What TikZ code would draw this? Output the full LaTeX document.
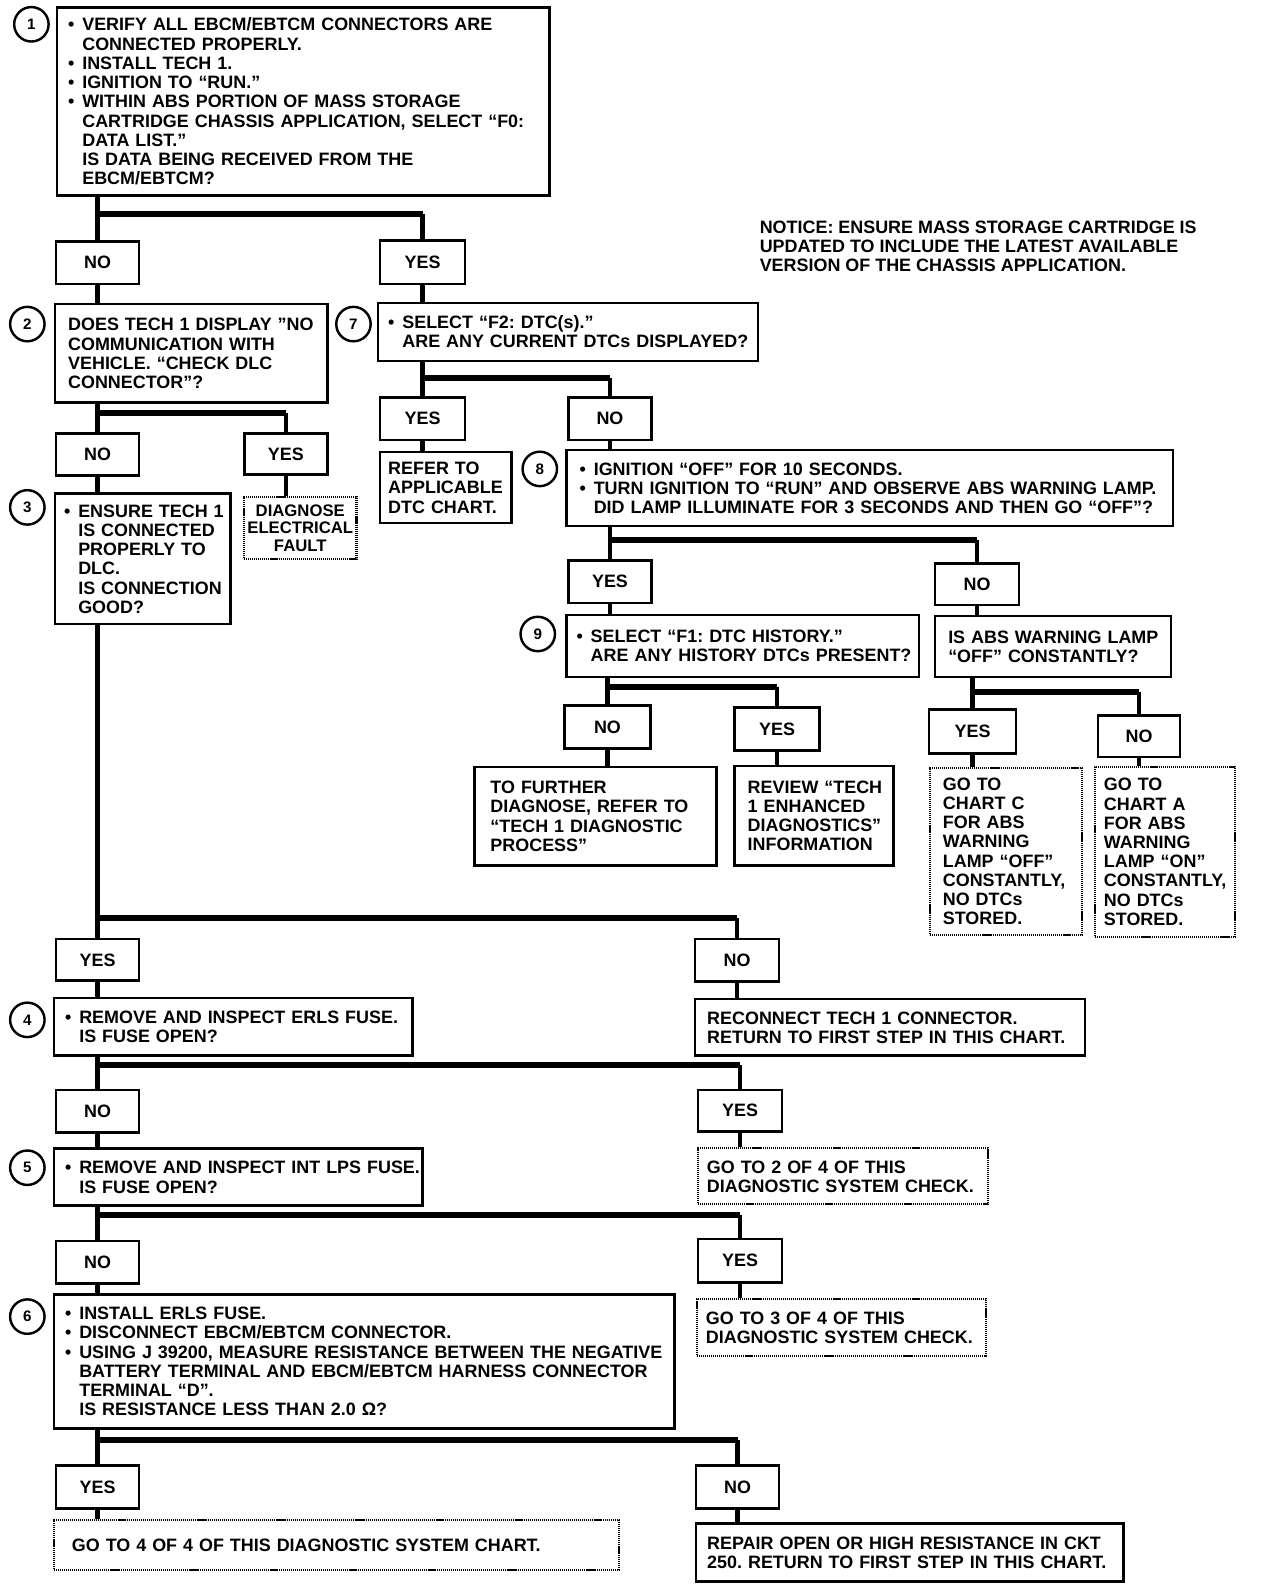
\documentclass[tikz,border=0pt]{standalone}
\usepackage{fontspec}
\setmainfont{Liberation Sans}
\newcommand\mf{\fontsize{17.7}{19}\selectfont\bfseries}
\newcommand\smf{\fontsize{16.5}{17}\selectfont\bfseries}
\newcommand\numf{\fontsize{15}{15}\selectfont\bfseries}
\newcommand\bu{\makebox[14pt][l]{•}}
\newcommand\hi{\hspace*{14pt}}
\newcommand\ttab[1]{\raisebox{-2.5pt}[\height][\depth]{\begin{tabular}{@{}l@{}}#1\end{tabular}}}
\frenchspacing
\hbadness=10000 \hfuzz=200pt
\begin{document}
\begin{tikzpicture}[x=1pt,y=-1pt,
  box/.style={draw, line width=2.6pt, anchor=north west, align=left, inner ysep=0pt, font=\mf},
  dbox/.style={box, line width=2pt, dash pattern=on 1.1pt off 0.9pt},
  lab/.style={draw, line width=2.6pt, anchor=north west, inner sep=0pt, font=\mf, minimum width=82pt, minimum height=42pt},
  num/.style={circle, draw, line width=2.4pt, minimum size=34pt, inner sep=0pt, font=\numf},
  conn/.style={line width=4.5pt},
  bar/.style={line width=6pt},
  note/.style={anchor=north west, align=left, inner sep=0pt, font=\mf}
]
\useasboundingbox (0,0) rectangle (1248,1568);

% ---------- step 1
\node[num] (c1) at (31,24) {1};
\node[box, inner xsep=11pt, text width=464pt, minimum height=186pt] (b1) at (55,6) {\ttab{%
\bu VERIFY ALL EBCM/EBTCM CONNECTORS ARE\\
\hi CONNECTED PROPERLY.\\
\bu INSTALL TECH 1.\\
\bu IGNITION TO “RUN.”\\
\bu WITHIN ABS PORTION OF MASS STORAGE\\
\hi CARTRIDGE CHASSIS APPLICATION, SELECT “F0:\\
\hi DATA LIST.”\\
\hi IS DATA BEING RECEIVED FROM THE\\
\hi EBCM/EBTCM?}};

\node[note] (notice) at (750,218) {NOTICE: ENSURE MASS STORAGE CARTRIDGE IS\\
UPDATED TO INCLUDE THE LATEST AVAILABLE\\
VERSION OF THE CHASSIS APPLICATION.};

\node[lab] (n1) at (54,237) {NO};
\node[lab, minimum width=84pt, minimum height=43pt] (y1) at (374,236) {YES};

% ---------- step 2
\node[num] (c2) at (27,320) {2};
\node[box, inner xsep=13pt, text width=243pt, minimum height=97pt] (b2) at (53,299) {\ttab{%
DOES TECH 1 DISPLAY "NO\\
COMMUNICATION WITH\\
VEHICLE. “CHECK DLC\\
CONNECTOR”?}};
\node[lab, minimum height=41pt] (n2) at (54,427) {NO};
\node[lab, minimum height=40pt] (y2) at (240,427) {YES};

% ---------- step 3
\node[num] (c3) at (27,501) {3};
\node[box, inner xsep=9pt, text width=155pt, minimum height=129pt] (b3) at (53,486) {\ttab{%
\bu ENSURE TECH 1\\
\hi IS CONNECTED\\
\hi PROPERLY TO\\
\hi DLC.\\
\hi IS CONNECTION\\
\hi GOOD?}};
\node[dbox, align=center, font=\smf, inner xsep=2pt, text width=107pt, minimum height=61pt] (diag) at (240,490) {%
DIAGNOSE\\ ELECTRICAL\\ FAULT};

% ---------- step 7
\node[num] (c7) at (349,320) {7};
\node[box, inner xsep=10pt, text width=355pt, minimum height=57pt] (b7) at (372,298) {\ttab{%
\bu SELECT “F2: DTC(s).”\\
\hi ARE ANY CURRENT DTCs DISPLAYED?}};
\node[lab, minimum width=84pt] (y7) at (374,391) {YES};
\node[lab] (n7) at (560,391) {NO};
\node[box, inner xsep=8pt, text width=114pt, minimum height=70pt] (refer) at (374,445) {\ttab{%
REFER TO\\ APPLICABLE\\ DTC CHART.}};

% ---------- step 8
\node[num] (c8) at (533,463) {8};
\node[box, inner xsep=13pt, text width=573pt, minimum height=75pt] (b8) at (558,443) {\ttab{%
\bu IGNITION “OFF” FOR 10 SECONDS.\\
\bu TURN IGNITION TO “RUN” AND OBSERVE ABS WARNING LAMP.\\
\hi DID LAMP ILLUMINATE FOR 3 SECONDS AND THEN GO “OFF”?}};
\node[lab] (y8) at (560,552) {YES};
\node[lab, minimum width=83pt, minimum height=41pt] (n8) at (922,555) {NO};

% ---------- step 9
\node[num] (c9) at (531,626) {9};
\node[box, inner xsep=10pt, text width=328pt, minimum height=61pt] (b9) at (558,606) {\ttab{%
\bu SELECT “F1: DTC HISTORY.”\\
\hi ARE ANY HISTORY DTCs PRESENT?}};
\node[box, inner xsep=13pt, text width=207pt, minimum height=60pt] (lamp) at (922,607) {\ttab{%
IS ABS WARNING LAMP\\ “OFF” CONSTANTLY?}};
\node[lab, minimum width=85pt, minimum height=43pt] (n9) at (556,695) {NO};
\node[lab, minimum width=84pt, minimum height=43pt] (y9) at (724,697) {YES};
\node[lab, minimum width=86pt, minimum height=44pt] (y10) at (916,699) {YES};
\node[lab, minimum width=81pt, minimum height=41pt] (n10) at (1083,705) {NO};
\node[box, inner xsep=16pt, text width=207pt, minimum height=97pt] (further) at (467,756) {\ttab{%
TO FURTHER\\ DIAGNOSE, REFER TO\\ “TECH 1 DIAGNOSTIC\\ PROCESS”}};
\node[box, inner xsep=13pt, text width=131pt, minimum height=98pt] (review) at (724,755) {\ttab{%
REVIEW “TECH\\ 1 ENHANCED\\ DIAGNOSTICS”\\ INFORMATION}};
\node[dbox, inner xsep=13pt, text width=124pt, minimum height=165pt] (chartc) at (917,757) {\ttab{%
GO TO\\ CHART C\\ FOR ABS\\ WARNING\\ LAMP “OFF”\\ CONSTANTLY,\\ NO DTCs\\ STORED.}};
\node[dbox, inner xsep=9pt, text width=120pt, minimum height=168pt] (charta) at (1080,756) {\ttab{%
GO TO\\ CHART A\\ FOR ABS\\ WARNING\\ LAMP “ON”\\ CONSTANTLY,\\ NO DTCs\\ STORED.}};

% ---------- step 4
\node[lab, minimum width=82pt, minimum height=41pt] (y3) at (54,926) {YES};
\node[lab, minimum width=83pt] (n3) at (685,926) {NO};
\node[num] (c4) at (27,1007) {4};
\node[box, inner xsep=11pt, text width=332pt, minimum height=57pt] (b4) at (52,984) {\ttab{%
\bu REMOVE AND INSPECT ERLS FUSE.\\
\hi IS FUSE OPEN?}};
\node[box, inner xsep=12pt, text width=361pt, minimum height=56pt] (reconnect) at (685,985) {\ttab{%
RECONNECT TECH 1 CONNECTOR.\\ RETURN TO FIRST STEP IN THIS CHART.}};

% ---------- step 5
\node[lab] (n4) at (54,1075) {NO};
\node[lab, minimum width=83pt, minimum height=41pt] (y4) at (688,1075) {YES};
\node[num] (c5) at (27,1153) {5};
\node[box, inner xsep=11pt, text width=342pt, minimum height=56pt] (b5) at (52,1133) {\ttab{%
\bu REMOVE AND INSPECT INT LPS FUSE.\\
\hi IS FUSE OPEN?}};
\node[dbox, inner xsep=9pt, text width=269pt, minimum height=55pt] (go2) at (688,1133) {\ttab{%
GO TO 2 OF 4 OF THIS\\ DIAGNOSTIC SYSTEM CHECK.}};

% ---------- step 6
\node[lab] (n5) at (54,1224) {NO};
\node[lab, minimum width=83pt, minimum height=43pt] (y5) at (688,1222) {YES};
\node[dbox, inner xsep=9pt, text width=268pt, minimum height=56pt] (go3) at (687,1282) {\ttab{%
GO TO 3 OF 4 OF THIS\\ DIAGNOSTIC SYSTEM CHECK.}};
\node[num] (c6) at (27,1300) {6};
\node[box, inner xsep=11pt, text width=591pt, minimum height=132pt] (b6) at (52,1277) {\ttab{%
\bu INSTALL ERLS FUSE.\\
\bu DISCONNECT EBCM/EBTCM CONNECTOR.\\
\bu USING J 39200, MEASURE RESISTANCE BETWEEN THE NEGATIVE\\
\hi BATTERY TERMINAL AND EBCM/EBTCM HARNESS CONNECTOR\\
\hi TERMINAL “D”.\\
\hi IS RESISTANCE LESS THAN 2.0 Ω?}};
\node[lab] (y6) at (54,1446) {YES};
\node[lab] (n6) at (686,1446) {NO};
\node[dbox, inner xsep=18pt, text width=522pt, minimum height=49pt] (go4) at (52,1500) {\ttab{%
GO TO 4 OF 4 OF THIS DIAGNOSTIC SYSTEM CHART.}};
\node[box, inner xsep=11pt, text width=400pt, minimum height=57pt] (repair) at (686,1503) {\ttab{%
REPAIR OPEN OR HIGH RESISTANCE IN CKT\\ 250. RETURN TO FIRST STEP IN THIS CHART.}};

% ---------- junction coordinates
\path (n1.north |- 0,211) coordinate (j1);
\path (n2.north |- 0,408) coordinate (j2);
\path (y7.north |- 0,373) coordinate (j7);
\path (y8.north |- 0,533) coordinate (j8);
\path (n9.north |- 0,678) coordinate (j9);
\path (y10.north |- 0,683) coordinate (j10);
\path (y3.north |- 0,906) coordinate (j3);
\path (n4.north |- 0,1052) coordinate (j4);
\path (n5.north |- 0,1200) coordinate (j5);
\path (y6.north |- 0,1422) coordinate (j6);

% ---------- connectors
% step 1
\draw[conn] (n1.north |- b1.south) -- (n1.north);
\draw[bar] (j1) -- (j1 -| y1.north);
\draw[conn] (j1 -| y1.north) -- (y1.north);
\draw[conn] (n1.south) -- (n1.south |- b2.north);
\draw[conn] (y1.south) -- (y1.south |- b7.north);
% step 2
\draw[conn] (n2.north |- b2.south) -- (n2.north);
\draw[bar] (j2) -- (j2 -| y2.north);
\draw[conn] (j2 -| y2.north) -- (y2.north);
\draw[conn] (n2.south) -- (n2.south |- b3.north);
\draw[conn] (y2.south) -- (y2.south |- diag.north);
% step 3 spine
\draw[conn] (y3.north |- b3.south) -- (y3.north);
\draw[bar] (j3) -- (j3 -| n3.north);
\draw[conn] (j3 -| n3.north) -- (n3.north);
\draw[conn] (y3.south) -- (y3.south |- b4.north);
\draw[conn] (n3.south) -- (n3.south |- reconnect.north);
% step 7
\draw[conn] (y7.north |- b7.south) -- (y7.north);
\draw[bar] (j7) -- (j7 -| n7.north);
\draw[conn] (j7 -| n7.north) -- (n7.north);
\draw[conn] (y7.south) -- (y7.south |- refer.north);
\draw[conn] (n7.south) -- (n7.south |- b8.north);
% step 8
\draw[conn] (y8.north |- b8.south) -- (y8.north);
\draw[bar] (j8) -- (j8 -| n8.north);
\draw[conn] (j8 -| n8.north) -- (n8.north);
\draw[conn] (y8.south) -- (y8.south |- b9.north);
\draw[conn] (n8.south) -- (n8.south |- lamp.north);
% step 9
\draw[conn] (n9.north |- b9.south) -- (n9.north);
\draw[bar] (j9) -- (j9 -| y9.north);
\draw[conn] (j9 -| y9.north) -- (y9.north);
\draw[conn] (n9.south) -- (n9.south |- further.north);
\draw[conn] (y9.south) -- (y9.south |- review.north);
% lamp
\draw[conn] (y10.north |- lamp.south) -- (y10.north);
\draw[bar] (j10) -- (j10 -| n10.north);
\draw[conn] (j10 -| n10.north) -- (n10.north);
\draw[conn] (y10.south) -- (y10.south |- chartc.north);
\draw[conn] (n10.south) -- (n10.south |- charta.north);
% step 4
\draw[conn] (n4.north |- b4.south) -- (n4.north);
\draw[bar] (j4) -- (j4 -| y4.north);
\draw[conn] (j4 -| y4.north) -- (y4.north);
\draw[conn] (n4.south) -- (n4.south |- b5.north);
\draw[conn] (y4.south) -- (y4.south |- go2.north);
% step 5
\draw[conn] (n5.north |- b5.south) -- (n5.north);
\draw[bar] (j5) -- (j5 -| y5.north);
\draw[conn] (j5 -| y5.north) -- (y5.north);
\draw[conn] (n5.south) -- (n5.south |- b6.north);
\draw[conn] (y5.south) -- (y5.south |- go3.north);
% step 6
\draw[conn] (y6.north |- b6.south) -- (y6.north);
\draw[bar] (j6) -- (j6 -| n6.north);
\draw[conn] (j6 -| n6.north) -- (n6.north);
\draw[conn] (y6.south) -- (y6.south |- go4.north);
\draw[conn] (n6.south) -- (n6.south |- repair.north);
\end{tikzpicture}
\end{document}
